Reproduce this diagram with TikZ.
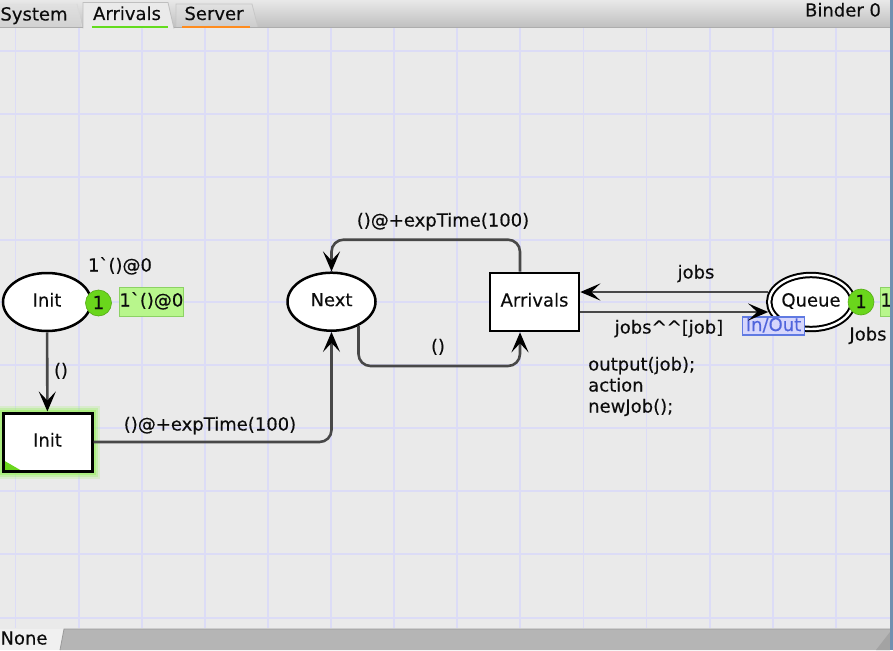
\documentclass[tikz,border=0pt]{standalone}
\usepackage{fontspec}
\setmainfont{DejaVu Sans}[FakeBold=0.25]
\usetikzlibrary{arrows.meta,shapes.geometric}

\definecolor{canvasbg}{RGB}{234,234,234}
\definecolor{gridline}{RGB}{220,220,246}
\definecolor{arcgrey}{RGB}{72,72,72}
\definecolor{tokengreen}{RGB}{106,214,28}
\definecolor{markfill}{RGB}{184,246,140}
\definecolor{markedge}{RGB}{140,210,100}
\definecolor{glowgreen}{RGB}{150,240,90}
\definecolor{portfill}{RGB}{214,214,252}
\definecolor{portedge}{RGB}{96,122,226}
\definecolor{porttext}{RGB}{80,100,220}
\definecolor{serverorange}{RGB}{255,140,30}
\definecolor{arrivalsgreen}{RGB}{100,220,30}
\definecolor{frameblue}{RGB}{112,144,176}
\definecolor{statusgrey}{RGB}{181,181,181}
\definecolor{inktext}{RGB}{12,12,12}

\tikzset{
  txt/.style={text=inktext, inner sep=0pt, text height=13pt, text depth=4pt},
  place/.style={ellipse, draw=black, line width=2.5pt, fill=white,
    minimum width=88pt, minimum height=58pt, inner sep=0pt, txt},
  transbox/.style={rectangle, draw=black, line width=2.6pt, fill=white,
    minimum width=89pt, minimum height=58pt, inner sep=0pt, txt},
  token/.style={circle, fill=tokengreen, draw=tokengreen!80!black, line width=0.6pt,
    minimum size=26pt, inner sep=0pt, txt, text height=12pt, text depth=0pt},
  marking/.style={rectangle, fill=markfill, draw=markedge, line width=0.8pt,
    minimum height=29pt, inner xsep=5pt, inner ysep=0pt, txt},
  port/.style={rectangle, fill=portfill, draw=portedge, line width=1.2pt, text=porttext,
    inner xsep=3pt, inner ysep=0pt, minimum height=18pt, text height=12pt, text depth=2pt},
  arcline/.style={draw=arcgrey, line width=2.6pt,
    -{Stealth[length=20pt,width=17pt,inset=9pt,color=black]}},
  roundbend/.style={rounded corners=12pt},
}

\begin{document}
\begin{tikzpicture}[x=1pt, y=-1pt, font=\fontsize{18pt}{21pt}\selectfont]
\useasboundingbox (0,0) rectangle (893,650);
\fill[canvasbg] (0,0) rectangle (893,650);

% background grid of the sheet
\foreach \gx in {15.5,78.6,141.7,204.8,267.9,331,394.1,457.2,520.3,583.4,646.5,709.6,772.7,835.8}
  \draw[gridline, line width=1.8pt] (\gx,28) -- (\gx,628);
\foreach \gy in {50.7,113.7,176.7,239.7,302.2,365.2,428.2,491.2,554.3,617.7}
  \draw[gridline, line width=1.8pt] (0,\gy) -- (890,\gy);

\begin{scope}
\clip (0,28) rectangle (890,628);

% places
\node[place] (initP) at (47,302) {Init};
\node[place] (next) at (331.5,301.7) {Next};
\node[place, double=white, double distance=2.4pt, line width=2pt,
      minimum width=83pt, minimum height=54pt] (queue) at (811,302) {Queue};

% transitions
\node[transbox, line width=3pt,
      preaction={draw=glowgreen, line width=15pt, opacity=0.2},
      preaction={draw=glowgreen, line width=11pt, opacity=0.3},
      preaction={draw=glowgreen, line width=7pt, opacity=0.5},
      path picture={\fill[tokengreen] (path picture bounding box.south west)
        -- ++(19pt,0pt) -- ++(-19pt,11pt) -- cycle;}] (initT) at (47.5,442) {Init};
\node[transbox] (arr) at (534.5,302) {Arrivals};

% tokens and markings
\node[token] (initTok) at (98.5,303) {1};
\node[marking, anchor=west] (initMark) at (119,302) {1\textasciigrave()@0};
\node[txt] (initInit) at (120,267) {1\textasciigrave()@0};
\node[token] (queueTok) at (861,302) {1};
\node[marking, anchor=west, text width=50pt, align=left] (queueMark) at (880,302) {1};
\node[txt] (queueType) at (868,336) {Jobs};
\node[port] (queuePort) at (773.5,326) {In/Out};

% arcs
\draw[arcline] (initP) -- (initT);
\draw[arcline, roundbend] (initT.east) -| (next.south);
\draw[arcline, roundbend] ([xshift=-14.5pt]arr.north) -- ++(0,-32) -| (next.north);
\draw[arcline, roundbend] (next.-42) -- ++(0,40) -| ([xshift=-14.5pt]arr.south);
\draw[arcline] ([yshift=10pt]queue.west) -- ([yshift=10pt]arr.east);
\draw[arcline] ([yshift=-10pt]arr.east) -- ([yshift=-10pt]queue.west);

% arc inscriptions
\node[txt] (lblInitArc) at (61,372) {()};
\node[txt] (lblInitNext) at (210,426) {()@+expTime(100)};
\node[txt] (lblArrNext) at (443,222) {()@+expTime(100)};
\node[txt] (lblNextArr) at (438,348) {()};
\node[txt] (lblJobsIn) at (696,274) {jobs};
\node[txt] (lblJobsOut) at (669,329) {jobs\textasciicircum\textasciicircum[job]};

% code segment of the Arrivals transition
\node[txt, anchor=west] (code1) at (588,366) {output(job);};
\node[txt, anchor=west] (code2) at (588,387) {action};
\node[txt, anchor=west] (code3) at (588,408) {newJob();};
\end{scope}

% tab bar on top
\shade[top color=black!9, bottom color=black!25] (0,0) rectangle (890,27.5);
\shade[top color=black!12, bottom color=black!18] (-2,4) -- (77,4) -- (82,27.5) -- (-2,27.5) -- cycle;
\draw[white!85!black, line width=0.8pt] (77,4) -- (82,27.5);
\fill[canvasbg] (83,2.5) -- (168,2.5) -- (174,28.5) -- (83,28.5) -- cycle;
\draw[black!25, line width=0.8pt] (83,28.5) -- (83,2.5) -- (168,2.5) -- (174,28.5);
\shade[top color=black!12, bottom color=black!20] (176,4) -- (252,4) -- (258,27.5) -- (176,27.5) -- cycle;
\draw[black!22, line width=0.8pt] (176,27.5) -- (176,4) -- (252,4) -- (258,27.5);
\draw[black!32, line width=0.8pt] (0,27.5) -- (83,27.5) (174,27.5) -- (890,27.5);
\node[txt] (tabSystem) at (34,16) {System};
\node[txt] (tabArrivals) at (127,15.5) {Arrivals};
\node[txt] (tabServer) at (214,15.5) {Server};
\draw[arrivalsgreen, line width=2.2pt] (tabArrivals.south west) ++(-1,3) -- ++(76,0);
\draw[serverorange, line width=2.2pt] (tabServer.south west) ++(-2,3) -- ++(68,0);
\node[txt] (binder) at (843,12) {Binder 0};

% status bar at the bottom
\fill[black!6] (0,628.5) rectangle (893,650);
\fill[statusgrey] (60,650) -- (64,629) -- (890,629) -- (890,650) -- cycle;
\draw[black!40, line width=0.8pt] (60,650) -- (64,629) -- (890,629);
\fill[black!36] (890,632) -- (890,650) -- (876,650) -- cycle;
\node[txt] (sheetName) at (24,640) {None};

% window frame on the right
\fill[frameblue] (890,0) rectangle (893,650);
\end{tikzpicture}
\end{document}
